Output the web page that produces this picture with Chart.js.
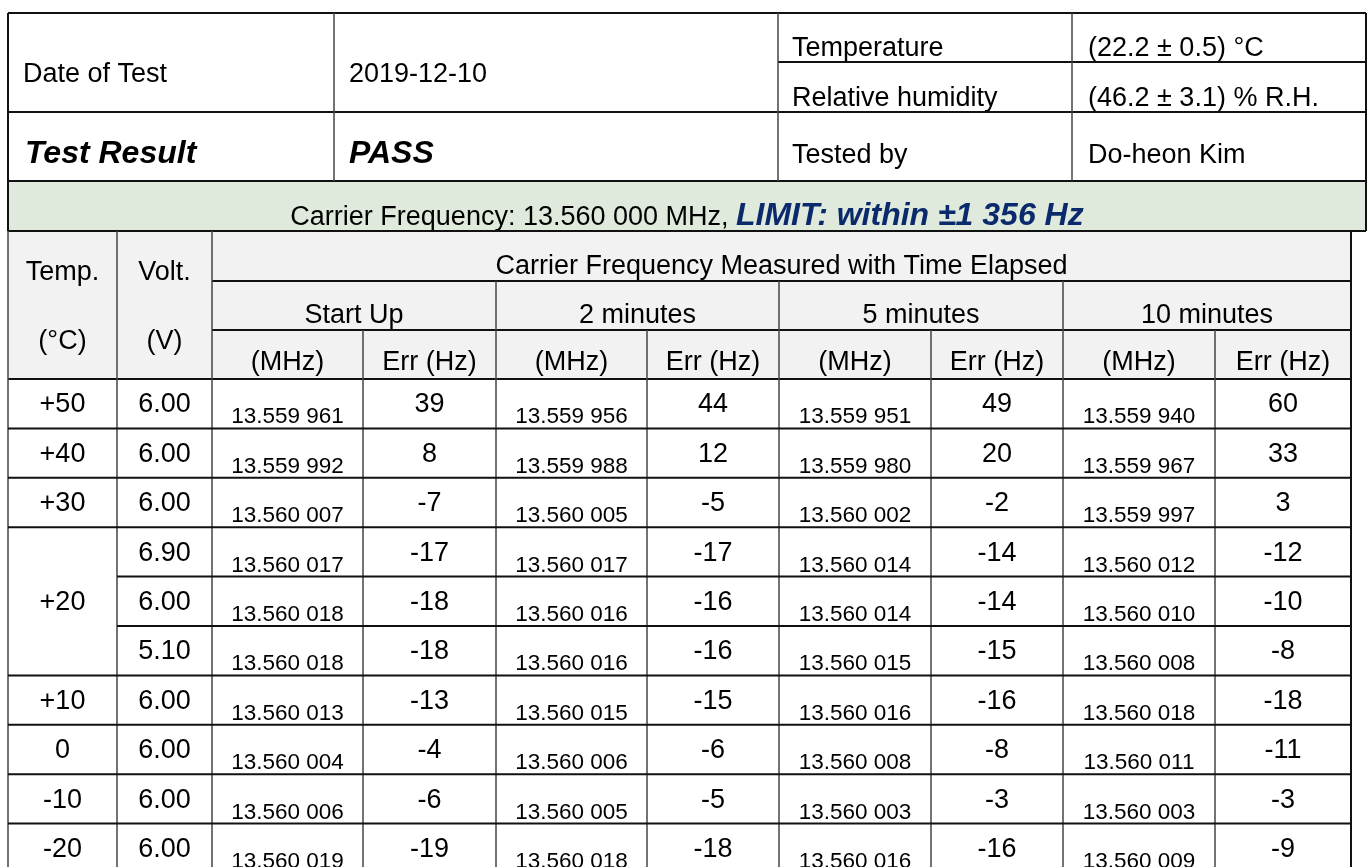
<!DOCTYPE html>
<html>
<head>
<meta charset="utf-8">
<script src="https://cdn.jsdelivr.net/npm/chart.js@4.4.1/dist/chart.umd.min.js"></script>
<style>
  html, body { margin: 0; padding: 0; background: #fff; }
  canvas { display: block; }
</style>
</head>
<body>
<canvas id="freqTable" width="1368" height="867"></canvas>
<script>
// ---- DATA ----
const testDate = "2019-12-10";
const temperature = "(22.2 ± 0.5) °C";
const humidity = "(46.2 ± 3.1) % R.H.";
const testedBy = "Do-heon Kim";
const testResult = "PASS";
const carrierText = "Carrier Frequency: 13.560 000 MHz, ";
const limitText = "LIMIT: within ±1 356 Hz";

const timeGroups = ["Start Up", "2 minutes", "5 minutes", "10 minutes"];

const tempLabels = ["+50", "+40", "+30", "+20", "+10", "0", "-10", "-20"];
const tempSpans = [1, 1, 1, 3, 1, 1, 1, 1];
const volts = ["6.00", "6.00", "6.00", "6.90", "6.00", "5.10", "6.00", "6.00", "6.00", "6.00"];

const startMHz = ["13.559 961", "13.559 992", "13.560 007", "13.560 017", "13.560 018", "13.560 018", "13.560 013", "13.560 004", "13.560 006", "13.560 019"];
const startErr = [39, 8, -7, -17, -18, -18, -13, -4, -6, -19];
const min2MHz = ["13.559 956", "13.559 988", "13.560 005", "13.560 017", "13.560 016", "13.560 016", "13.560 015", "13.560 006", "13.560 005", "13.560 018"];
const min2Err = [44, 12, -5, -17, -16, -16, -15, -6, -5, -18];
const min5MHz = ["13.559 951", "13.559 980", "13.560 002", "13.560 014", "13.560 014", "13.560 015", "13.560 016", "13.560 008", "13.560 003", "13.560 016"];
const min5Err = [49, 20, -2, -14, -14, -15, -16, -8, -3, -16];
const min10MHz = ["13.559 940", "13.559 967", "13.559 997", "13.560 012", "13.560 010", "13.560 008", "13.560 018", "13.560 011", "13.560 003", "13.560 009"];
const min10Err = [60, 33, 3, -12, -10, -8, -18, -11, -3, -9];

// ---- LAYOUT (table units) ----
const colWidths = [109, 95, 151, 133, 151, 132, 152, 132, 152, 136];
const tableLeft = 8;
const colX = [tableLeft];
colWidths.forEach(w => colX.push(colX[colX.length - 1] + w));

const infoColX = [8, 334, 778, 1072, 1366];
const headY = [13, 62, 112, 181, 231, 281, 330, 379];
const rowH = 49.4;

const FONT = "'Liberation Sans', Arial, sans-serif";
const BASE = 27;
const BIG = 32;
const SMALL = 22.5;
const LINE = "#111";
const VLINE = "#444";

const tablePlugin = {
  id: "tablePlugin",
  afterDraw(chart) {
    const c = chart.ctx;
    const X = v => chart.scales.x.getPixelForValue(v);
    const Y = v => chart.scales.y.getPixelForValue(v);
    const rowY = i => headY[7] + i * rowH;

    function text(str, x, y, size, align, opts = {}) {
      c.font = (opts.style || "") + " " + size + "px " + FONT;
      c.fillStyle = opts.color || "#000";
      c.textAlign = align;
      c.textBaseline = "alphabetic";
      c.fillText(str, X(x), Y(y));
    }
    function hline(x0, x1, y, w) {
      c.beginPath();
      c.strokeStyle = LINE;
      c.lineWidth = w || 2;
      c.moveTo(X(x0), Y(y));
      c.lineTo(X(x1), Y(y));
      c.stroke();
    }
    function vline(x, y0, y1, w, col) {
      c.beginPath();
      c.strokeStyle = col || VLINE;
      c.lineWidth = w || 1.5;
      c.moveTo(X(x), Y(y0));
      c.lineTo(X(x), Y(y1));
      c.stroke();
    }

    c.save();

    // fills
    c.fillStyle = "#dfe9dc";
    c.fillRect(X(infoColX[0]), Y(headY[3]), X(infoColX[4]) - X(infoColX[0]), Y(headY[4]) - Y(headY[3]));
    c.fillStyle = "#f2f2f2";
    c.fillRect(X(colX[0]), Y(headY[4]), X(colX[10]) - X(colX[0]), Y(headY[7]) - Y(headY[4]));

    // info block
    text("Date of Test", infoColX[0] + 15, 82, BASE, "left");
    text(testDate, infoColX[1] + 15, 82, BASE, "left");
    text("Temperature", infoColX[2] + 14, 56, BASE, "left");
    text(temperature, infoColX[3] + 16, 56, BASE, "left");
    text("Relative humidity", infoColX[2] + 14, 106, BASE, "left");
    text(humidity, infoColX[3] + 16, 106, BASE, "left");
    text("Test Result", infoColX[0] + 17, 163, BIG, "left", { style: "italic bold" });
    text(testResult, infoColX[1] + 15, 163, BIG, "left", { style: "italic bold" });
    text("Tested by", infoColX[2] + 14, 163, BASE, "left");
    text(testedBy, infoColX[3] + 16, 163, BASE, "left");

    // title row (two styles, centred together)
    c.font = BASE + "px " + FONT;
    const w1 = c.measureText(carrierText).width;
    c.font = "italic bold " + BIG + "px " + FONT;
    const w2 = c.measureText(limitText).width;
    const mid = (X(infoColX[0]) + X(infoColX[4])) / 2;
    const start = mid - (w1 + w2) / 2;
    c.textAlign = "left";
    c.textBaseline = "alphabetic";
    c.font = BASE + "px " + FONT;
    c.fillStyle = "#000";
    c.fillText(carrierText, start, Y(225));
    c.font = "italic bold " + BIG + "px " + FONT;
    c.fillStyle = "#0b2a6b";
    c.fillText(limitText, start + w1, Y(225));

    // header
    const ctrX = (a, b) => (colX[a] + colX[b]) / 2;
    text("Temp.", ctrX(0, 1), 280, BASE, "center");
    text("(°C)", ctrX(0, 1), 349, BASE, "center");
    text("Volt.", ctrX(1, 2), 280, BASE, "center");
    text("(V)", ctrX(1, 2), 349, BASE, "center");
    text("Carrier Frequency Measured with Time Elapsed", ctrX(2, 10), 274, BASE, "center");
    timeGroups.forEach((g, k) => {
      const a = 2 + k * 2;
      text(g, ctrX(a, a + 2), 323, BASE, "center");
      text("(MHz)", ctrX(a, a + 1), 370, BASE, "center");
      text("Err (Hz)", ctrX(a + 1, a + 2), 370, BASE, "center");
    });

    // data rows
    const mhzCols = [startMHz, min2MHz, min5MHz, min10MHz];
    const errCols = [startErr, min2Err, min5Err, min10Err];
    let r = 0;
    tempLabels.forEach((t, k) => {
      const span = tempSpans[k];
      const midRow = r + Math.floor(span / 2);
      text(t, ctrX(0, 1), rowY(midRow + 1) - 16, BASE, "center");
      r += span;
    });
    volts.forEach((v, i) => {
      const bottom = rowY(i + 1);
      text(v, ctrX(1, 2), bottom - 16, BASE, "center");
      mhzCols.forEach((col, k) => {
        const a = 2 + k * 2;
        text(col[i], ctrX(a, a + 1), bottom - 5, SMALL, "center");
        text(String(errCols[k][i]), ctrX(a + 1, a + 2), bottom - 16, BASE, "center");
      });
    });

    // lines: info block
    hline(infoColX[0], infoColX[4], headY[0]);
    hline(infoColX[2], infoColX[4], headY[1]);
    hline(infoColX[0], infoColX[4], headY[2]);
    hline(infoColX[0], infoColX[4], headY[3]);
    hline(infoColX[0], infoColX[4], headY[4]);
    vline(infoColX[0], headY[0], headY[4], 2, LINE);
    vline(infoColX[4], headY[0], headY[4], 2, LINE);
    [1, 2, 3].forEach(i => vline(infoColX[i], headY[0], headY[3]));

    // lines: header
    hline(colX[2], colX[10], headY[5]);
    hline(colX[2], colX[10], headY[6]);
    hline(colX[0], colX[10], headY[7]);
    vline(colX[1], headY[4], rowY(10));
    vline(colX[2], headY[4], rowY(10));
    [4, 6, 8].forEach(i => vline(colX[i], headY[5], rowY(10)));
    [3, 5, 7, 9].forEach(i => vline(colX[i], headY[6], rowY(10)));
    vline(colX[0], headY[4], rowY(10));
    vline(colX[10], headY[4], rowY(10), 2, LINE);

    // lines: data rows (merged temperature cells skip the first column)
    let acc = 0;
    const mergedInner = new Set();
    tempSpans.forEach(s => {
      for (let j = 1; j < s; j++) mergedInner.add(acc + j);
      acc += s;
    });
    for (let i = 1; i <= volts.length; i++) {
      const x0 = mergedInner.has(i) ? colX[1] : colX[0];
      hline(x0, colX[10], rowY(i));
    }

    c.restore();
  }
};

new Chart(document.getElementById("freqTable"), {
  type: "scatter",
  data: { datasets: [] },
  options: {
    responsive: false,
    animation: false,
    events: [],
    layout: { padding: 0 },
    plugins: { legend: { display: false }, tooltip: { enabled: false } },
    scales: {
      x: { type: "linear", min: 0, max: 1368, display: false },
      y: { type: "linear", min: 0, max: 867, reverse: true, display: false }
    }
  },
  plugins: [tablePlugin]
});
</script>
</body>
</html>
